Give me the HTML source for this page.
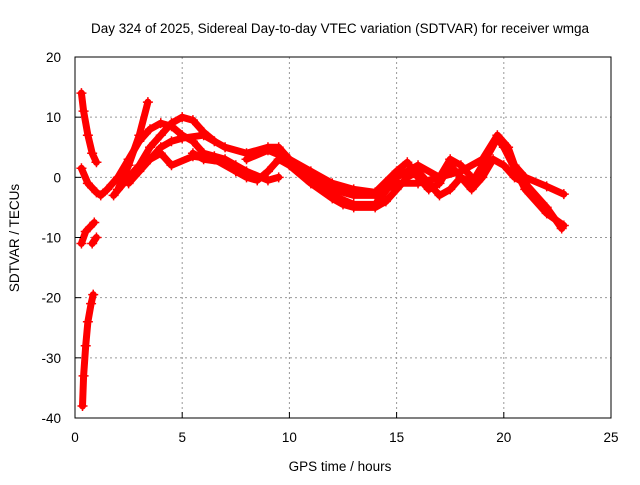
<!DOCTYPE html>
<html><head><meta charset="utf-8"><style>
body{margin:0;background:#fff}
svg text{font-family:"Liberation Sans",sans-serif;font-size:13.5px;fill:#000}
</style></head><body>
<svg id="chart" width="640" height="480" viewBox="0 0 640 480" xmlns="http://www.w3.org/2000/svg">
<rect width="640" height="480" fill="#fff"/>
<text x="340" y="33" text-anchor="middle">Day 324 of 2025, Sidereal Day-to-day VTEC variation (SDTVAR) for receiver wmga</text>
<text x="340" y="471" text-anchor="middle">GPS time / hours</text>
<text transform="translate(19,238) rotate(-90)" text-anchor="middle">SDTVAR / TECUs</text>
<g id="grid"></g>
<g id="marks"></g>
<rect x="75" y="57" width="536" height="361" fill="none" stroke="#000" stroke-width="1"/>
</svg>
<script>
const xTicks=[0,5,10,15,20,25];
const yTicks=[20,10,0,-10,-20,-30,-40];
const trackAx=[0.3,0.4,0.6,0.8,1.0];
const trackAy=[14,11,7,4,2.5];
const trackBx=[0.3,0.6,1.0,1.2,1.5,2,2.5,3,3.5,4,4.5,5,5.5,6,6.5,7,7.5,8,9,9.5];
const trackBy=[1.5,-1,-2.5,-3,-2,0,3,6,8,9,8.5,7,6,4,3.5,3,2,1,-0.5,0];
const trackCx=[0.3,0.5,0.9];
const trackCy=[-11,-9,-7.5];
const trackDx=[0.8,1.0];
const trackDy=[-11,-10];
const trackEx=[0.35,0.4,0.5,0.6,0.75,0.85];
const trackEy=[-38,-33,-28,-24,-21,-19.5];
const trackFx=[2,2.5,3,3.4];
const trackFy=[-2,2,7,12.5];
const trackGx=[1.8,2.5,3,3.5,4,4.5,5,5.5,6,6.5];
const trackGy=[-3,0,2,5,7,9,10,9.5,7.5,6];
const trackHx=[3.5,4,4.5,5,6,7,8,9,9.5,10,11,12,13,14,14.5,15,16,17,18,19,19.7,20.2,20.5,21,22,22.8];
const trackHy=[3,5,6,6.5,7,5,4,5,5,3,0,-2,-3,-3,-2,-1,-1,0,1,3,7,5,2,0,-1.5,-2.8];
const trackIx=[5.5,6,7,7.5,8,8.5,9,9.5,10,11,12,12.5,13,14,14.5,15,15.5,16,16.5,17,17.5,18,18.5,19,19.5,20,20.5,21,22,22.7];
const trackIy=[4,3,2.5,1,0,-0.5,1,3,2,-1,-3.5,-4.5,-5,-5,-4,-2,0,1,-1,-3,-2,0,-2,0,3,2,0,-1,-5,-8.5];
const trackJx=[8,9,10,11,12,13,14,15,15.5,16,16.5,17,17.5,18,18.5,19,19.7,20,21,22,22.8];
const trackJy=[3,4.5,3,1,-1,-2,-2.5,1,2.5,0,-2,-1,2,0,-1,2,6.5,5,-2,-6,-8];
const trackKx=[11,12,13,14,15,16,17,17.5,18,18.5];
const trackKy=[0,-3,-4.5,-4.5,0,2,0,3,2,0];
const trackLx=[2.5,3,3.5,4,4.5,5.5,6.5,7.5];
const trackLy=[-1,1,3,4,2,3.5,3,1];
const tracks=[[trackAx,trackAy],[trackBx,trackBy],[trackCx,trackCy],[trackDx,trackDy],[trackEx,trackEy],[trackFx,trackFy],[trackGx,trackGy],[trackHx,trackHy],[trackIx,trackIy],[trackJx,trackJy],[trackKx,trackKy],[trackLx,trackLy]];
const NS="http://www.w3.org/2000/svg";
const X0=75,X1=611,Y0=418,Y1=57;
function sx(v){return X0+(v-0)/(25-0)*(X1-X0);}
function sy(v){return Y0-(v+40)/(60)*(Y0-Y1);}
const grid=document.getElementById('grid'),svg=document.getElementById('chart'),marks=document.getElementById('marks');
function mk(t,a,p){const e=document.createElementNS(NS,t);for(const k in a)e.setAttribute(k,a[k]);(p||svg).appendChild(e);return e;}
xTicks.forEach(t=>{const x=sx(t);
 if(t>0&&t<25){const g=mk('line',{x1:x,x2:x,y1:Y1,y2:Y0,stroke:'#999','stroke-dasharray':'2,3'},grid);
 
 }
 const k=mk('line',{x1:x,x2:x,y1:Y0,y2:Y0-6,stroke:'#000'});
 
 
 const l=mk('text',{x:x,y:442,'text-anchor':'middle'});l.textContent=t;
 
 });
yTicks.forEach(t=>{const y=sy(t);
 if(t>-40&&t<20){const g=mk('line',{x1:X0,x2:X1,y1:y,y2:y,stroke:'#999','stroke-dasharray':'2,3'},grid);
 
 }
 const k=mk('line',{x1:X0,x2:X0+6,y1:y,y2:y,stroke:'#000'});
 
 
 const l=mk('text',{x:61,y:y+5,'text-anchor':'end'});l.textContent=t;
 
 });
tracks.forEach(([xs,ys])=>{
 const pts=xs.map((x,i)=>sx(x).toFixed(1)+','+sy(ys[i]).toFixed(1)).join(' ');
 const p=mk('polyline',{points:pts,fill:'none',stroke:'#f00','stroke-width':7,'stroke-linejoin':'round','stroke-linecap':'round'},marks);
 
 
 xs.forEach((x,i)=>{const cx=sx(x),cy=sy(ys[i]);
  const m=mk('path',{d:`M${cx-5},${cy}h10M${cx},${cy-5}v10`,stroke:'#f00','stroke-width':1.5},marks);
  
  });
});
</script>
</body></html>
